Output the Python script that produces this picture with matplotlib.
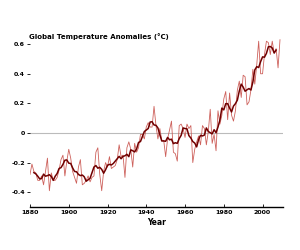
import matplotlib
matplotlib.use('Agg')
import matplotlib.pyplot as plt
import numpy as np

years = list(range(1880, 2010))
anomaly = [
    -0.28, -0.21, -0.26, -0.27, -0.32, -0.32, -0.29, -0.35, -0.26, -0.17,
    -0.39, -0.27, -0.32, -0.32, -0.30, -0.25, -0.18, -0.15, -0.29, -0.19,
    -0.11, -0.17, -0.26, -0.30, -0.34, -0.23, -0.18, -0.35, -0.34, -0.32,
    -0.29, -0.33, -0.30, -0.29, -0.13, -0.10, -0.28, -0.39, -0.26, -0.20,
    -0.23, -0.16, -0.24, -0.23, -0.22, -0.18, -0.08, -0.16, -0.15, -0.30,
    -0.10, -0.06, -0.11, -0.23, -0.07, -0.13, -0.10, -0.01, -0.01, -0.04,
    0.04, 0.07, 0.04, 0.04, 0.18, 0.05, -0.04, 0.03, -0.05, -0.05,
    -0.16, -0.04, 0.02, 0.08, -0.13, -0.14, -0.19, 0.05, 0.06, 0.03,
    -0.03, 0.06, 0.03, 0.05, -0.20, -0.11, -0.06, -0.02, -0.08, 0.05,
    0.03, -0.08, 0.01, 0.16, -0.07, -0.01, -0.12, 0.15, 0.06, 0.12,
    0.23, 0.28, 0.09, 0.27, 0.12, 0.08, 0.15, 0.29, 0.35, 0.24,
    0.39, 0.38, 0.19, 0.21, 0.29, 0.43, 0.33, 0.46, 0.62, 0.40,
    0.40, 0.53, 0.62, 0.61, 0.53, 0.62, 0.54, 0.57, 0.44, 0.63,
]
x_ticks = [1880, 1900, 1920, 1940, 1960, 1980, 2000]
y_ticks = [-0.4, -0.2, 0, 0.2, 0.4, 0.6]
y_labels = ['-0.4', '-0.2', '0', '0.2', '0.4', '0.6']

# 5-year running mean
a = np.array(anomaly)
smooth = np.convolve(a, np.ones(5) / 5, mode='valid')
smooth_years = years[2:-2]

fig = plt.figure(figsize=(3, 2.5), dpi=100)
ax = fig.add_axes([0.1, 0.172, 0.843, 0.681])

ax.axhline(0, color='#bbbbbb', linewidth=0.8, zorder=1)
ax.plot(years, anomaly, color='#c8504a', linewidth=0.6, alpha=0.9, zorder=2)
ax.plot(smooth_years, smooth, color='#700000', linewidth=1.1, zorder=3)

ax.set_xlim(1880, 2010.5)
ax.set_ylim(-0.5, 0.65)
for s in ['top', 'right', 'left']:
    ax.spines[s].set_visible(False)
ax.spines['bottom'].set_linewidth(1.0)

ax.set_xticks(x_ticks)
ax.set_xticklabels([str(x) for x in x_ticks], fontsize=4.5, fontweight='bold')
ax.set_yticks(y_ticks)
ax.set_yticklabels(y_labels, fontsize=4.5, fontweight='bold')
ax.tick_params(axis='x', length=2, width=0.6, pad=2, direction='in')
ax.tick_params(axis='y', length=2, width=0.6, pad=1.5)
ax.set_xlabel('Year', fontsize=5.5, fontweight='bold', labelpad=2)

fig.text(0.097, 0.84, 'Global Temperature Anomalies (°C)', fontsize=5,
         fontweight='bold', va='bottom', ha='left')

fig.savefig('out.png', dpi=100)
